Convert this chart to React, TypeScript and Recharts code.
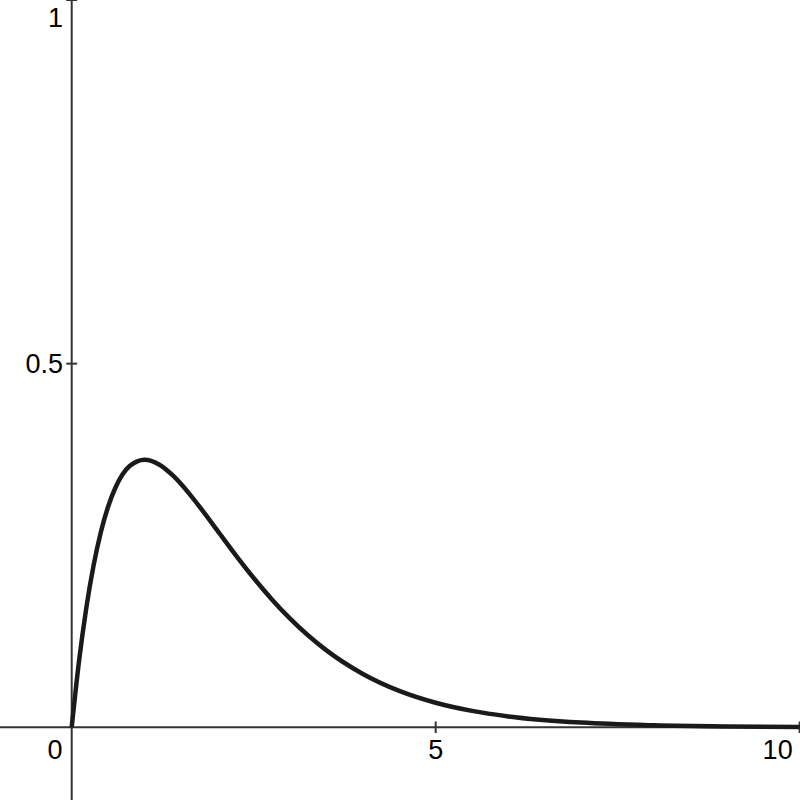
import { LineChart, Line, XAxis, YAxis, ReferenceLine, ReferenceDot } from "recharts"

// readings of the curve off the picture
const xs = [0, 0.1, 0.2, 0.3, 0.4, 0.5, 0.6, 0.8, 1, 1.2, 1.4, 1.6, 1.8, 2, 2.25, 2.5, 2.75, 3, 3.5, 4, 4.5, 5, 5.5, 6, 7, 8, 9, 10]
const ys = [0, 0.0905, 0.1637, 0.2222, 0.2681, 0.3033, 0.3293, 0.3595, 0.3679, 0.3614, 0.3452, 0.323, 0.2975, 0.2707, 0.2371, 0.2052, 0.1758, 0.1494, 0.1057, 0.0733, 0.05, 0.0337, 0.0225, 0.0149, 0.0064, 0.0027, 0.0011, 0.0005]

const xTicks = [5, 10]
const yTicks = [0.5, 1]
const xLabels = ["0", "5", "10"]
const yLabels = ["0.5", "1"]

const data = xs.map((x, i) => ({ x, y: ys[i] }))

const axisColor = "#333333"
const font = { fontFamily: "Liberation Sans, Arial, sans-serif", fontSize: 27, fill: "#000" }

const XLabel = ({ viewBox, value, last }: any) => (
  <text x={viewBox.x + viewBox.width / 2 + (last ? -22 : 0)} y={viewBox.y + 33} textAnchor="middle" {...font}>
    {value}
  </text>
)

// labels near the top edge get pushed down so they stay inside
const YLabel = ({ viewBox, value }: any) => (
  <text x={63} y={Math.max(viewBox.y + viewBox.height / 2 + 9, 27)} textAnchor="end" {...font}>
    {value}
  </text>
)

export default function App() {
  return (
    <div style={{ position: "absolute", left: 0, top: 0, width: 800, height: 800, background: "#fff" }}>
      <LineChart width={800} height={800} data={data} margin={{ top: 0, right: 0, bottom: 0, left: 0 }}>
        <XAxis dataKey="x" type="number" domain={[-0.985, 10.005]} allowDataOverflow hide />
        <YAxis type="number" domain={[-0.1, 1.0]} allowDataOverflow hide />
        <ReferenceLine x={0} stroke={axisColor} strokeWidth={2} />
        <ReferenceLine y={0} stroke={axisColor} strokeWidth={2} />
        {xTicks.map((t) => (
          <ReferenceLine
            key={"xt" + t}
            segment={[{ x: t, y: -0.008 }, { x: t, y: 0.008 }]}
            stroke={axisColor}
            strokeWidth={2}
            ifOverflow="visible"
          />
        ))}
        {yTicks.map((t) => (
          <ReferenceLine
            key={"yt" + t}
            segment={[{ x: -0.075, y: t }, { x: 0.075, y: t }]}
            stroke={axisColor}
            strokeWidth={2}
            ifOverflow="visible"
          />
        ))}
        <Line
          dataKey="y"
          type="monotone"
          stroke="#1a1a1a"
          strokeWidth={4.5}
          dot={false}
          activeDot={false}
          isAnimationActive={false}
        />
        {xLabels.map((l, i) => (
          <ReferenceDot
            key={"xl" + l}
            x={i === 0 ? -0.23 : Number(l)}
            y={0}
            r={1}
            fill="none"
            stroke="none"
            ifOverflow="visible"
            label={<XLabel value={l} last={i === xLabels.length - 1} />}
          />
        ))}
        {yLabels.map((l) => (
          <ReferenceDot
            key={"yl" + l}
            x={0}
            y={Number(l)}
            r={1}
            fill="none"
            stroke="none"
            ifOverflow="visible"
            label={<YLabel value={l} />}
          />
        ))}
      </LineChart>
    </div>
  )
}
